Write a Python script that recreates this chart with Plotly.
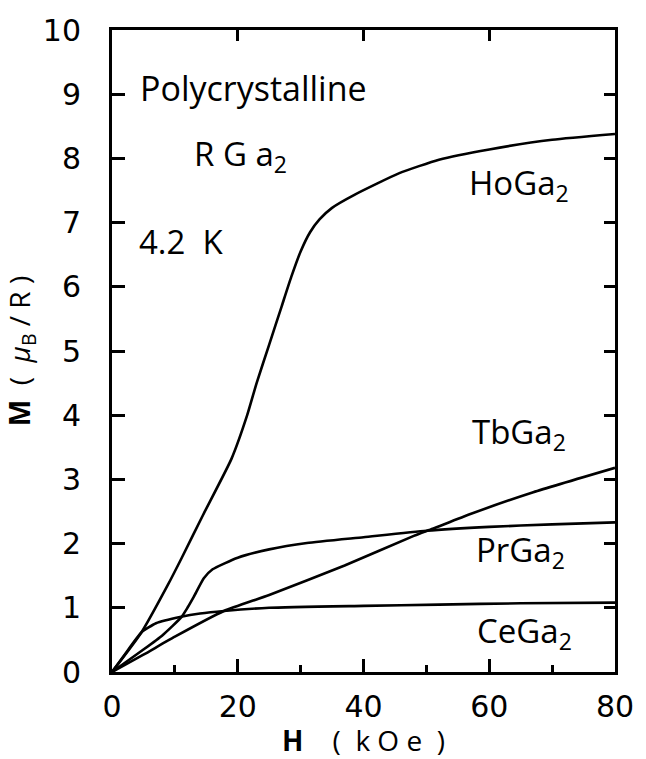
import plotly.graph_objects as go

# Field H (kOe) and magnetization M (muB/R)
ho_h = [0, 4.7, 8.9, 11.1, 14.5, 19, 21.5, 23, 25, 27, 28.5, 30, 31.5, 33, 35, 38.7, 45.7, 52, 60, 70, 80]
ho_m = [0, 0.62, 1.36, 1.78, 2.45, 3.32, 4.0, 4.5, 5.1, 5.7, 6.15, 6.55, 6.85, 7.05, 7.23, 7.44, 7.77, 7.98, 8.14, 8.29, 8.38]

tb_h = [0, 5, 10, 17.8, 25, 37, 48, 51, 57, 67, 80]
tb_m = [0, 0.27, 0.55, 0.95, 1.2, 1.66, 2.12, 2.23, 2.46, 2.8, 3.18]

pr_h = [0, 5, 8, 11, 12, 13, 14.6, 16, 20, 25, 31, 40, 50, 60, 70, 80]
pr_m = [0, 0.35, 0.57, 0.85, 1.0, 1.17, 1.46, 1.6, 1.78, 1.91, 2.01, 2.1, 2.2, 2.26, 2.3, 2.33]

ce_h = [0, 2, 4.7, 7, 11, 14, 17.8, 25, 40, 52, 65, 80]
ce_m = [0, 0.27, 0.62, 0.76, 0.86, 0.91, 0.95, 1.0, 1.03, 1.05, 1.07, 1.08]

labels = ["HoGa<sub>2</sub>", "TbGa<sub>2</sub>", "PrGa<sub>2</sub>", "CeGa<sub>2</sub>"]
label_x = [56.5, 57, 57.5, 57.8]
label_y = [7.6, 3.72, 1.88, 0.62]

x_ticks = [0, 20, 40, 60, 80]
y_ticks = list(range(0, 11))

FONT = "Open Sans"
TICKFONT = "DejaVu Sans"

fig = go.Figure()
for hs, ms in [(ho_h, ho_m), (tb_h, tb_m), (pr_h, pr_m), (ce_h, ce_m)]:
    fig.add_trace(go.Scatter(x=hs, y=ms, mode="lines",
                             line=dict(color="black", width=2.6, shape="spline", smoothing=0.5),
                             showlegend=False, hoverinfo="skip"))

# invisible trace to anchor top/right tick axes
fig.add_trace(go.Scatter(x=[0, 80], y=[0, 10], xaxis="x2", yaxis="y2", mode="markers",
                         marker=dict(opacity=0), showlegend=False, hoverinfo="skip"))

for txt, lx, ly in zip(labels, label_x, label_y):
    fig.add_annotation(x=lx, y=ly, text=txt, showarrow=False, xanchor="left", yanchor="middle",
                       font=dict(family=FONT, size=33, color="black"))

fig.add_annotation(x=4.2, y=9.1, text="Polycrystalline", showarrow=False, xanchor="left",
                   yanchor="middle", font=dict(family=FONT, size=34, color="black"))
fig.add_annotation(x=12.8, y=8.05, text="R G a<sub>2</sub>", showarrow=False, xanchor="left",
                   yanchor="middle", font=dict(family=FONT, size=33, color="black"))
fig.add_annotation(x=4.0, y=6.7, text="4.2  K", showarrow=False, xanchor="left",
                   yanchor="middle", font=dict(family=FONT, size=33, color="black"))

axis_common = dict(showgrid=False, zeroline=False, linecolor="black", linewidth=3,
                   tickcolor="black", ticks="inside", tickwidth=2.5, ticklabeloverflow="allow",
                   tickfont=dict(family=TICKFONT, size=30, color="black"))

fig.update_layout(
    width=646, height=759,
    margin=dict(l=112, r=30, t=22, b=87),
    paper_bgcolor="white", plot_bgcolor="white",
    xaxis=dict(range=[0, 80], tickvals=x_ticks, ticklen=13, mirror=True, ticklabelstandoff=6,
               minor=dict(tickvals=[10, 30, 50, 70], ticklen=7, tickwidth=2.5, tickcolor="black", ticks="inside"),
               title=dict(text="<b>H</b>    (  k O e  )", font=dict(family=FONT, size=28, color="black"), standoff=2),
               **axis_common),
    yaxis=dict(range=[0, 10], tickvals=y_ticks, ticklen=13, mirror=True, ticklabelstandoff=22,
               title=dict(text="<b>M</b>  (  <i>μ</i><sub>B</sub> / R )", font=dict(family=FONT, size=28, color="black"), standoff=8),
               **axis_common),
    xaxis2=dict(range=[0, 80], overlaying="x", side="top", tickvals=[20, 40, 60], ticklen=11,
                showticklabels=False, showline=False, showgrid=False, zeroline=False,
                ticks="inside", tickwidth=2.5, tickcolor="black"),
    yaxis2=dict(range=[0, 10], overlaying="y", side="right", tickvals=y_ticks, ticklen=11,
                showticklabels=False, showline=False, showgrid=False, zeroline=False,
                ticks="inside", tickwidth=2.5, tickcolor="black"),
)

fig.write_html("out.html", config={"displayModeBar": False},
               post_script="document.body.style.margin='0px';")
